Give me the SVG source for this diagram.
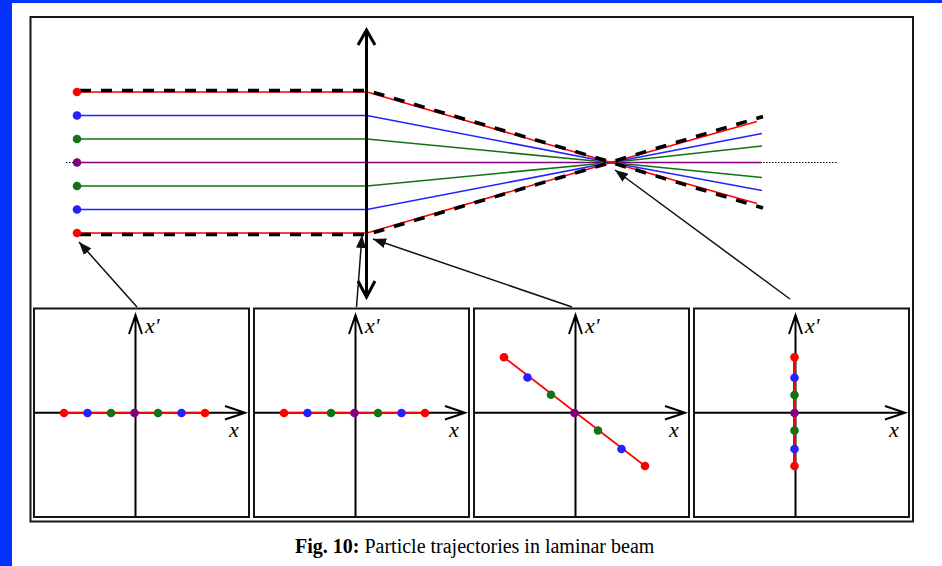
<svg xmlns="http://www.w3.org/2000/svg" width="942" height="566" viewBox="0 0 942 566">
<style>
.bl{fill:none;stroke-width:1.6}
.red{stroke:#ff0000}.blu{stroke:#2222ff}.grn{stroke:#137313}.pur{stroke:#800080}
.dR{fill:#ff0000}.dB{fill:#2222ff}.dG{fill:#137313}.dP{fill:#800080}
.env{fill:none;stroke:#000;stroke-width:3.6;stroke-dasharray:11 10}
.ax{fill:none;stroke:#000;stroke-width:2;stroke-linejoin:miter}
.ptr{fill:none;stroke:#111;stroke-width:1.5;marker-end:url(#ah)}
.panel{fill:#fff;stroke:#151515;stroke-width:2}
.lbl{font-family:"Liberation Serif","Times New Roman",serif;font-style:italic;font-size:22px;fill:#000}
.cap{font-family:"Liberation Serif",serif;font-size:20px;fill:#000}
</style>
<defs>
<marker id="ah" markerUnits="userSpaceOnUse" markerWidth="14" markerHeight="10" refX="13" refY="5" orient="auto">
<path d="M0,0 L13,5 L0,10 z" fill="#111"/>
</marker>
</defs>
<rect width="942" height="566" fill="#fff"/>
<rect x="0" y="0" width="942" height="3" fill="#0433ff"/>
<rect x="0" y="0" width="12" height="566" fill="#0433ff"/>
<rect id="frame" x="30.5" y="17" width="882.5" height="504.5" fill="#fff" stroke="#151515" stroke-width="2"/>

<g id="beam">
<path class="bl pur" d="M77,162.5 L762,162.5"/>
<path class="bl grn" d="M77,139 L367,139 L611,162.5 L762,177.5"/>
<path class="bl grn" d="M77,186 L367,186 L611,162.5 L762,146"/>
<path class="bl blu" d="M77,115.5 L367,115.5 L611,162.5 L762,190.5"/>
<path class="bl blu" d="M77,209.5 L367,209.5 L611,162.5 L762,133.5"/>
<path class="bl red" d="M77,92 L367,92 L611,162.5 L757,203.5"/>
<path class="bl red" d="M77,233 L367,233 L611,162.5 L757,121.5"/>
<path class="env" d="M80,90.5 L367,90.5 L611,162 L763,116.5"/>
<path class="env" d="M80,234.5 L367,234.5 L611,162.5 L763,208"/>
<path d="M66,162.5 L76,162.5 M763,162.5 L838,162.5" fill="none" stroke="#000" stroke-width="1.2" stroke-dasharray="1.5 1.5"/>
<circle class="dR" cx="77" cy="92" r="4.3"/>
<circle class="dB" cx="77" cy="115.5" r="4.3"/>
<circle class="dG" cx="77" cy="139" r="4.3"/>
<circle class="dP" cx="77" cy="162.5" r="4.3"/>
<circle class="dG" cx="77" cy="186" r="4.3"/>
<circle class="dB" cx="77" cy="209.5" r="4.3"/>
<circle class="dR" cx="77" cy="233" r="4.3"/>
</g>

<g id="lens">
<path d="M366.5,31 L366.5,296" fill="none" stroke="#000" stroke-width="3"/>
<polyline points="358,45 366.5,30 375,45" fill="none" stroke="#000" stroke-width="3"/>
<polyline points="358,281 366.5,297 375,281" fill="none" stroke="#000" stroke-width="3"/>
</g>

<g id="panel1">
<rect class="panel" x="34" y="308.5" width="215" height="208.5"/>
<path class="ax" d="M34,412.7 L245,412.7 M225,406 L245,412.7 L225,419.5 M135.5,517 L135.5,315 M129,334 L135.5,315 L142,334"/>
<text class="lbl" x="145" y="333">x'</text>
<text class="lbl" x="229" y="437">x</text>
<path d="M64,413 L205,413" stroke="#ff0000" stroke-width="2"/>
<circle class="dR" cx="64" cy="413" r="4.3"/><circle class="dB" cx="87.5" cy="413" r="4.3"/><circle class="dG" cx="111" cy="413" r="4.3"/><circle class="dP" cx="134.5" cy="413" r="4.3"/><circle class="dG" cx="158" cy="413" r="4.3"/><circle class="dB" cx="181.5" cy="413" r="4.3"/><circle class="dR" cx="205" cy="413" r="4.3"/>
</g>

<g id="panel2">
<rect class="panel" x="254" y="308.5" width="215" height="208.5"/>
<path class="ax" d="M254,412.7 L465,412.7 M445,406 L465,412.7 L445,419.5 M355.5,517 L355.5,315 M349,334 L355.5,315 L362,334"/>
<text class="lbl" x="365" y="333">x'</text>
<text class="lbl" x="449" y="437">x</text>
<path d="M284,413 L425,413" stroke="#ff0000" stroke-width="2"/>
<circle class="dR" cx="284" cy="413" r="4.3"/><circle class="dB" cx="307.5" cy="413" r="4.3"/><circle class="dG" cx="331" cy="413" r="4.3"/><circle class="dP" cx="354.5" cy="413" r="4.3"/><circle class="dG" cx="378" cy="413" r="4.3"/><circle class="dB" cx="401.5" cy="413" r="4.3"/><circle class="dR" cx="425" cy="413" r="4.3"/>
</g>

<g id="panel3">
<rect class="panel" x="474" y="308.5" width="215" height="208.5"/>
<path class="ax" d="M474,412.7 L685,412.7 M665,406 L685,412.7 L665,419.5 M575.5,517 L575.5,315 M569,334 L575.5,315 L582,334"/>
<text class="lbl" x="585" y="333">x'</text>
<text class="lbl" x="669" y="437">x</text>
<path d="M504,357.3 L645,466" stroke="#ff0000" stroke-width="1.6"/>
<circle class="dR" cx="504" cy="357.3" r="4.3"/><circle class="dB" cx="527.5" cy="377.5" r="4.3"/><circle class="dG" cx="551" cy="394.8" r="4.3"/><circle class="dP" cx="574.5" cy="413" r="4.3"/><circle class="dG" cx="598" cy="430.5" r="4.3"/><circle class="dB" cx="621.5" cy="449" r="4.3"/><circle class="dR" cx="645" cy="466" r="4.3"/>
</g>

<g id="panel4">
<rect class="panel" x="694" y="308.5" width="215" height="208.5"/>
<path class="ax" d="M694,412.7 L905,412.7 M885,406 L905,412.7 L885,419.5 M795.5,517 L795.5,315 M789,334 L795.5,315 L802,334"/>
<text class="lbl" x="805" y="333">x'</text>
<text class="lbl" x="889" y="437">x</text>
<path d="M794.5,357.3 L794.5,466" stroke="#ff0000" stroke-width="3"/>
<circle class="dR" cx="794.5" cy="357.3" r="4.3"/><circle class="dB" cx="794.5" cy="377.7" r="4.3"/><circle class="dG" cx="794.5" cy="395" r="4.3"/><circle class="dP" cx="794.5" cy="413" r="4.3"/><circle class="dG" cx="794.5" cy="430.5" r="4.3"/><circle class="dB" cx="794.5" cy="449" r="4.3"/><circle class="dR" cx="794.5" cy="466" r="4.3"/>
</g>

<g id="connectors">
<path class="ptr" d="M137,307 L79,242"/>
<path class="ptr" d="M356.5,307 L362,235"/>
<path class="ptr" d="M572,307 L373,239"/>
<path class="ptr" d="M790,299 L615,170"/>
</g>

<text id="caption" class="cap" x="295" y="553"><tspan font-weight="bold">Fig. 10:</tspan> Particle trajectories in laminar beam</text>
</svg>
